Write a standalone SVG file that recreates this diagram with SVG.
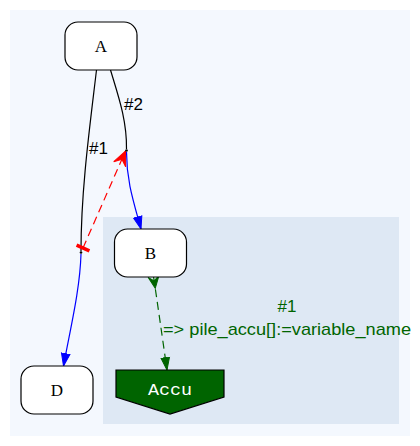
<svg xmlns="http://www.w3.org/2000/svg" width="420" height="446" viewBox="0 0 420 446">
<style>
.node rect{fill:#ffffff;stroke:#000000;stroke-width:1.2}
.nlabel{font-family:"Liberation Serif","Times New Roman",serif;font-size:17px;text-anchor:middle;fill:#000000}
.mlabel{font-family:"Liberation Mono","Courier New",monospace;font-size:17px;text-anchor:middle;fill:#ffffff;font-weight:normal}
.elabel{font-family:"Liberation Sans",Arial,sans-serif;font-size:17px;fill:#000000}
.glabel{font-family:"Liberation Sans",Arial,sans-serif;font-size:17px;fill:#006400;text-anchor:middle}
.edge{fill:none;stroke-width:1.2}
.blk{stroke:#000000}
.blue{stroke:#0000ff}
.red{stroke:#ff0000;stroke-dasharray:8,5}
.green{stroke:#006400;stroke-dasharray:8,5}
.pt{fill:#000000}
</style>
<defs>
<marker id="arrBlue" markerUnits="userSpaceOnUse" orient="auto" markerWidth="14" markerHeight="12" viewBox="-13 -6 14 12" refX="0" refY="0">
<path d="M0,0 L-12.5,-4.3 L-12.5,4.3 z" fill="#0000ff" stroke="#0000ff" stroke-width="1"/>
</marker>
<marker id="arrGreen" markerUnits="userSpaceOnUse" orient="auto" markerWidth="14" markerHeight="12" viewBox="-13 -6 14 12" refX="0" refY="0">
<path d="M0,0 L-12.5,-4.3 L-12.5,4.3 z" fill="#006400" stroke="#006400" stroke-width="1"/>
</marker>
<marker id="veeRed" markerUnits="userSpaceOnUse" orient="auto" markerWidth="18" markerHeight="16" viewBox="-16 -8 18 16" refX="0" refY="0">
<path d="M0,0 L-14.5,-6.5 L-9,0 L-14.5,6.5 z" fill="#ff0000" stroke="#ff0000" stroke-width="1"/>
</marker>
<marker id="teeRed" markerUnits="userSpaceOnUse" orient="auto" markerWidth="6" markerHeight="18" viewBox="-3 -9 6 18" refX="0" refY="0">
<rect x="-1.8" y="-7" width="3.6" height="14" fill="#ff0000"/>
</marker>
<marker id="veeGreen" markerUnits="userSpaceOnUse" orient="auto" markerWidth="16" markerHeight="14" viewBox="-2 -7 16 14" refX="0" refY="0">
<path d="M0,-5.5 L4.5,0 L0,5.5 L12,0 z" fill="#006400" stroke="#006400" stroke-width="1"/>
</marker>
</defs>

<g id="graph-bg">
<rect x="10" y="10" width="400" height="426" fill="#f4f8fe"/>
</g>
<g id="cluster">
<rect x="103" y="217" width="296" height="207" fill="#dee8f4"/>
</g>

<g id="connectors">
<path class="edge blk" d="M96.5,70 C90,125 81,190 81,251"/>
<path class="edge blue" d="M81,254 C80,290 70,330 63.5,366" marker-end="url(#arrBlue)"/>
<path class="edge blk" d="M110.5,70 C118,95 127,120 126.5,149"/>
<path class="edge blue" d="M126.5,152 C126.5,180 133,200 141,229" marker-end="url(#arrBlue)"/>
<path class="edge red" d="M83,248 L125.5,151" marker-start="url(#teeRed)" marker-end="url(#veeRed)"/>
<path class="edge green" d="M153.5,276.5 C157,300 162,335 167,370" marker-start="url(#veeGreen)" marker-end="url(#arrGreen)"/>
<text class="elabel" x="89" y="154">#1</text>
<text class="elabel" x="124" y="110">#2</text>
<text class="glabel" x="287" y="312">#1</text>
<text class="glabel" x="287" y="335" textLength="248" lengthAdjust="spacingAndGlyphs">=&gt; pile_accu[]:=variable_name</text>
</g>

<g id="node-A" class="node">
<rect x="65" y="22" width="72" height="48" rx="13" ry="13"/>
<text class="nlabel" x="101" y="52">A</text>
</g>
<g id="node-B" class="node">
<rect x="114.5" y="229" width="72" height="48" rx="13" ry="13"/>
<text class="nlabel" x="150.5" y="258.5">B</text>
</g>
<g id="node-D" class="node">
<rect x="21" y="366" width="72" height="48" rx="13" ry="13"/>
<text class="nlabel" x="57" y="396">D</text>
</g>
<g id="node-Accu">
<polygon points="116,370 224,370 224,397 170,414 116,397" fill="#006400" stroke="#000000" stroke-width="1.2"/>
<text class="mlabel" x="170" y="395" textLength="44" lengthAdjust="spacingAndGlyphs">Accu</text>
</g>
<g id="point-1">
<circle class="pt" cx="81" cy="252.5" r="1.3"/>
</g>
<g id="point-2">
<circle class="pt" cx="126.5" cy="150.5" r="1.3"/>
</g>
</svg>
